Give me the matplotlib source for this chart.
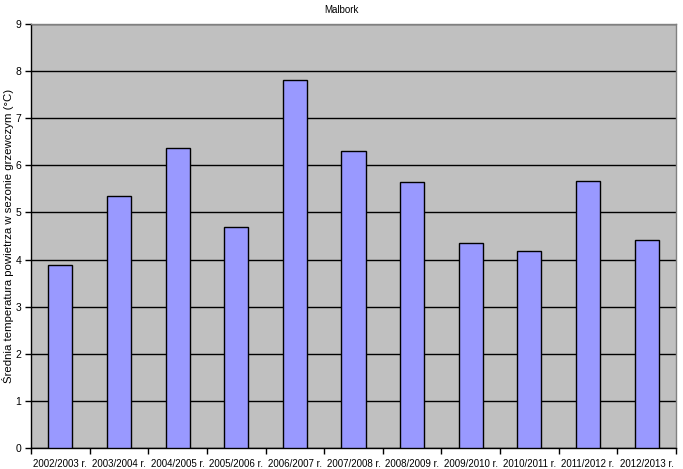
import matplotlib
matplotlib.use("Agg")
import matplotlib.pyplot as plt
import numpy as np

seasons = ["2002/2003 r.", "2003/2004 r.", "2004/2005 r.", "2005/2006 r.", "2006/2007 r.",
           "2007/2008 r.", "2008/2009 r.", "2009/2010 r.", "2010/2011 r.", "2011/2012 r.",
           "2012/2013 r."]
temps = [3.88, 5.34, 6.36, 4.69, 7.81, 6.31, 5.64, 4.35, 4.18, 5.66, 4.42]
yticks = list(range(0, 10))

plt.rcParams['font.family'] = ['Liberation Sans', 'DejaVu Sans']

fig = plt.figure(figsize=(6.83, 4.69), dpi=100)
ax = fig.add_axes([31/683, 1-448/469, (676-31)/683, (448-24)/469])
ax.set_facecolor("#C0C0C0")

x = np.arange(len(seasons))
ax.bar(x, temps, width=0.41, color="#9999FF", edgecolor="black", linewidth=1, zorder=3)

ax.set_xlim(-0.5, len(seasons)-0.5)
ax.set_ylim(0, 9)
ax.set_yticks(yticks)
ax.set_yticklabels([str(v) for v in yticks], fontsize=7.5)
ax.yaxis.grid(True, color="black", linewidth=1)
ax.set_axisbelow(True)

ax.set_xticks(x)
ax.set_xticklabels(seasons, fontsize=7)
ax.tick_params(axis='x', which='major', length=0, pad=8)
ax.set_xticks(np.arange(-0.5, len(seasons), 1.0), minor=True)
ax.tick_params(axis='x', which='minor', length=4, width=1, color="black", direction='out')
ax.tick_params(axis='y', length=4, width=1, direction='out', pad=3)

for s in ["left", "bottom"]:
    ax.spines[s].set_color("black")
    ax.spines[s].set_linewidth(1)
for s in ["top", "right"]:
    ax.spines[s].set_color("#808080")
    ax.spines[s].set_linewidth(1)

fig.text(8/683, 1-236/469, "Średnia temperatura powietrza w sezonie grzewczym (°C)",
         rotation=90, ha="center", va="center", fontsize=8.2)
fig.text(0.5, 1-10/469, "Malbork", ha="center", va="center", fontsize=7)

fig.savefig("out.png", dpi=100)
